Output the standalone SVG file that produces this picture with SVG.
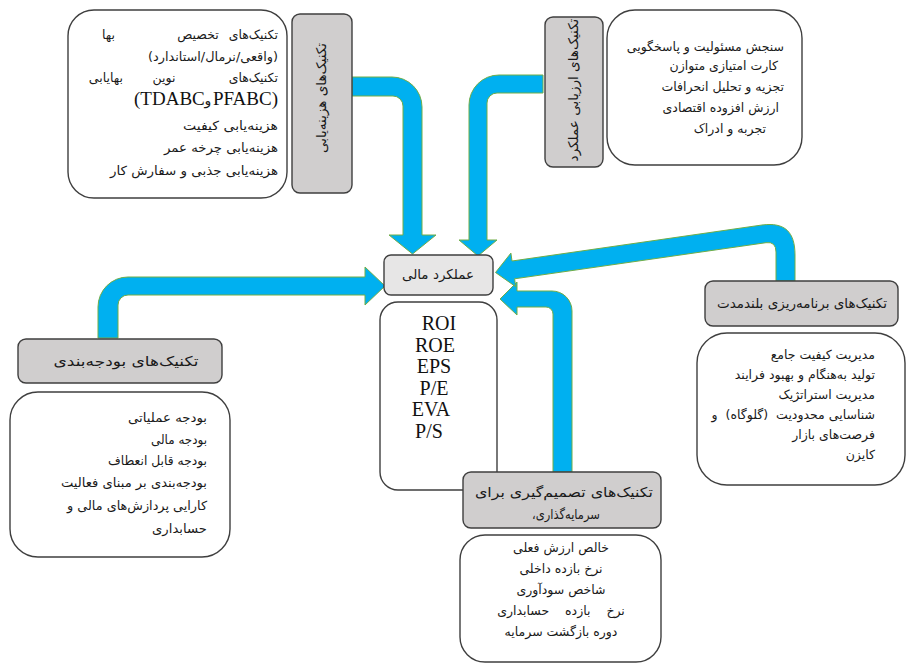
<svg xmlns="http://www.w3.org/2000/svg" width="910" height="665" viewBox="0 0 910 665">
<style>
.box{fill:#ffffff;stroke:#3f3f3f;stroke-width:1.4}
.lbl{fill:#d0cece;stroke:#3f3f3f;stroke-width:1.4}
.lbl2{fill:#e7e6e6;stroke:#3f3f3f;stroke-width:1.4}
.arr{fill:#00b0f0;stroke:#70ad47;stroke-width:1}
.t{font-family:"DejaVu Sans",sans-serif;font-size:12.5px;fill:#1a1a1a}
.h{font-family:"DejaVu Sans",sans-serif;font-size:13.5px;fill:#1a1a1a}
.s{font-family:"Liberation Serif",serif;font-size:20px;fill:#111111;text-anchor:middle}
.r{direction:rtl;text-anchor:start}
.c{direction:rtl;text-anchor:middle}
</style>
<rect width="910" height="665" fill="#ffffff"/>
<g id="connectors">
<path class="arr" d="M352,77 L392,77 A30,30 0 0 1 422,107 L422,235 L436,235 L412.5,254 L389,235 L403,235 L403,106 A10,10 0 0 0 393,96 L352,96 Z"/>
<path class="arr" d="M543,75 L499,75 A30,30 0 0 0 469,105 L469,240 L459,240 L478,256 L497,240 L487,240 L487,103 A10,10 0 0 1 497,93 L543,93 Z"/>
<path class="arr" d="M98,338 L98,307 A30,30 0 0 1 128,277 L365,277 L365,267 L385,286 L365,305 L365,295 L128,295 A10,10 0 0 0 118,305 L118,338 Z"/>
<path class="arr" d="M572,472 L572,311 A20,20 0 0 0 552,291 L517,291 L517,282 L500,299 L517,315 L517,307 L546,307 A7,7 0 0 1 553,314 L553,472 Z"/>
<path class="arr" d="M795,281 L795,255 C795,232 785,222 762,225 L512,261 L510.9,253.1 L495.5,272.5 L515.7,286.7 L514.6,278.8 L766,242.7 Q776,241.3 776,252 L776,281 Z"/>
</g>
<g id="costing-content">
<rect class="box" x="68" y="10" width="219" height="188" rx="26"/>
<text class="t r" x="278" y="39">تکنیک‌های</text>
<text class="t c" x="198" y="39">تخصیص</text>
<text class="t r" x="115" y="39">بها</text>
<text class="t r" x="278" y="61" textLength="130" lengthAdjust="spacingAndGlyphs">(واقعی/نرمال/استاندارد)</text>
<text class="t r" x="278" y="82">تکنیک‌های</text>
<text class="t c" x="164" y="82">نوین</text>
<text class="t r" x="123" y="82">بهایابی</text>
<text x="134" y="105" style="font-family:'Liberation Serif',serif;font-size:19px;fill:#111111">(TDABC</text>
<text class="t" x="208" y="105" text-anchor="middle" style="font-size:14px">و</text>
<text x="278" y="105" text-anchor="end" style="font-family:'Liberation Serif',serif;font-size:19px;fill:#111111">PFABC)</text>
<text class="t r" x="278" y="130" textLength="95" lengthAdjust="spacingAndGlyphs">هزینه‌یابی کیفیت</text>
<text class="t r" x="278" y="152" textLength="114" lengthAdjust="spacingAndGlyphs">هزینه‌یابی چرخه عمر</text>
<text class="t r" x="278" y="175" textLength="168" lengthAdjust="spacingAndGlyphs">هزینه‌یابی جذبی و سفارش کار</text>
</g>
<g id="costing-label">
<rect class="lbl" x="292" y="14" width="60" height="179" rx="8"/>
<text class="h c" transform="translate(326,98) rotate(-90)">تکنیک‌های هزینه‌یابی</text>
</g>
<g id="evaluation-label">
<rect class="lbl" x="545" y="17" width="58" height="150" rx="8"/>
<text class="h c" transform="translate(578,90) rotate(-90)">تکنیک‌های ارزیابی عملکرد</text>
</g>
<g id="evaluation-content">
<rect class="box" x="607" y="10" width="195" height="155" rx="28"/>
<text class="t r" x="784" y="51">سنجش مسئولیت و پاسخگویی</text>
<text class="t r" x="778" y="70">کارت امتیازی متوازن</text>
<text class="t r" x="784" y="91">تجزیه و تحلیل انحرافات</text>
<text class="t r" x="779" y="112">ارزش افزوده اقتصادی</text>
<text class="t r" x="766" y="133">تجربه و ادراک</text>
</g>
<g id="financial-performance">
<rect class="lbl2" x="384" y="255" width="109" height="40" rx="7"/>
<text class="h c" x="438" y="279">عملکرد مالی</text>
</g>
<g id="metrics">
<rect class="box" x="380" y="302" width="117" height="188" rx="18"/>
<text class="s" x="439" y="330">ROI</text>
<text class="s" x="435" y="351.5">ROE</text>
<text class="s" x="434" y="373">EPS</text>
<text class="s" x="434" y="394.5">P/E</text>
<text class="s" x="431" y="416">EVA</text>
<text class="s" x="429" y="437.5">P/S</text>
</g>
<g id="planning-label">
<rect class="lbl" x="705" y="281" width="193" height="45" rx="8"/>
<text class="h c" x="802" y="308">تکنیک‌های برنامه‌ریزی بلندمدت</text>
</g>
<g id="planning-content">
<rect class="box" x="697" y="333" width="208" height="152" rx="30"/>
<text class="t r" x="875" y="359">مدیریت کیفیت جامع</text>
<text class="t r" x="875" y="379">تولید به‌هنگام و بهبود فرایند</text>
<text class="t r" x="875" y="399">مدیریت استراتژیک</text>
<text class="t r" x="875" y="419" xml:space="preserve">شناسایی محدودیت  (گلوگاه)  و</text>
<text class="t r" x="875" y="439">فرصت‌های بازار</text>
<text class="t r" x="875" y="459">کایزن</text>
</g>
<g id="budgeting-label">
<rect class="lbl" x="18" y="339" width="204" height="44" rx="8"/>
<text class="h c" x="126" y="366" textLength="145" lengthAdjust="spacingAndGlyphs">تکنیک‌های بودجه‌بندی</text>
</g>
<g id="budgeting-content">
<rect class="box" x="10" y="392" width="220" height="165" rx="28"/>
<text class="t r" x="207" y="422" textLength="79" lengthAdjust="spacingAndGlyphs">بودجه عملیاتی</text>
<text class="t r" x="207" y="444" textLength="56" lengthAdjust="spacingAndGlyphs">بودجه مالی</text>
<text class="t r" x="207" y="465" textLength="99" lengthAdjust="spacingAndGlyphs">بودجه قابل انعطاف</text>
<text class="t r" x="207" y="487" textLength="146" lengthAdjust="spacingAndGlyphs">بودجه‌بندی بر مبنای فعالیت</text>
<text class="t r" x="207" y="510" textLength="140" lengthAdjust="spacingAndGlyphs">کارایی پردازش‌های مالی و</text>
<text class="t r" x="207" y="533" textLength="55" lengthAdjust="spacingAndGlyphs">حسابداری</text>
</g>
<g id="investment-label">
<rect class="lbl" x="463" y="472" width="198" height="56" rx="8"/>
<text class="h c" x="564" y="497" textLength="178" lengthAdjust="spacingAndGlyphs">تکنیک‌های تصمیم‌گیری برای</text>
<text class="h c" x="566" y="519" textLength="68" lengthAdjust="spacingAndGlyphs">سرمایه‌گذاری،</text>
</g>
<g id="investment-content">
<rect class="box" x="460" y="535" width="201" height="127" rx="25"/>
<text class="t c" x="561" y="552">خالص ارزش فعلی</text>
<text class="t c" x="561" y="573">نرخ بازده داخلی</text>
<text class="t c" x="561" y="594">شاخص سودآوری</text>
<text class="t c" x="561" y="615" xml:space="preserve">نرخ    بازده    حسابداری</text>
<text class="t c" x="561" y="636">دوره بازگشت سرمایه</text>
</g>
</svg>
